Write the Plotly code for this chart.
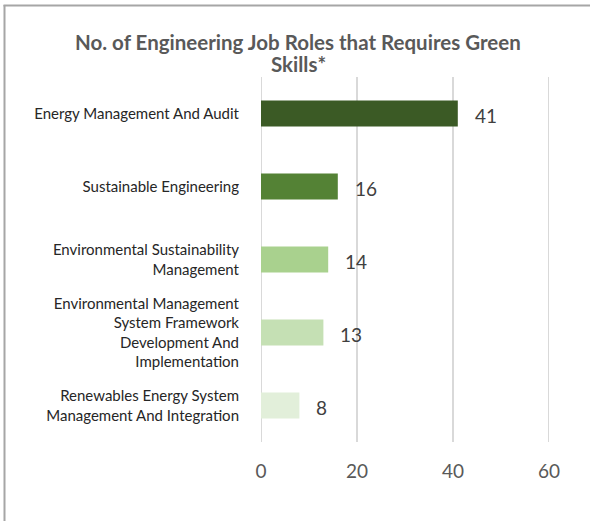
import plotly.graph_objects as go

categories = [
    "Energy Management And Audit",
    "Sustainable Engineering",
    "Environmental Sustainability<br>Management",
    "Environmental Management<br>System Framework<br>Development And<br>Implementation",
    "Renewables Energy System<br>Management And Integration",
]
values = [41, 16, 14, 13, 8]
colors = ["#3b5a25", "#548235", "#a9d18e", "#c5e0b4", "#e2efda"]
x_ticks = [0, 20, 40, 60]
title_lines = ["No. of Engineering Job Roles that Requires Green", "Skills*"]

W, H = 590, 521
L, R, T, B = 261, 549, 77, 442
positions = list(range(len(categories)))

fig = go.Figure()
fig.add_trace(go.Bar(
    x=values, y=positions, orientation="h",
    marker=dict(color=colors, line=dict(width=0)),
    width=0.355, hoverinfo="skip",
))

for p, v in zip(positions, values):
    fig.add_annotation(x=v, y=p, text=str(v), showarrow=False,
                       xanchor="left", yanchor="middle", xshift=15, yshift=-2,
                       font=dict(family="Lato", size=19, color="#404040"))

pw = R - L
ph = B - T
def px_x(px):
    return (px - L) / pw
def px_y(py):
    return (B - py) / ph

for t in x_ticks:
    fig.add_shape(type="line", xref="x", yref="paper", x0=t, x1=t, y0=0, y1=1,
                  layer="below", line=dict(color="#d9d9d9", width=2))

for line, cy in zip(title_lines, [42, 64]):
    fig.add_annotation(x=px_x(298), y=px_y(cy), xref="paper", yref="paper",
                       text="<b>" + line + "</b>", showarrow=False,
                       xanchor="center", yanchor="middle",
                       font=dict(family="Lato", size=20.5, color="#595959"))

fig.add_shape(type="line", xref="paper", yref="paper",
              x0=px_x(4.5), x1=px_x(4.5), y0=px_y(5), y1=px_y(530),
              line=dict(color="#a6a6a6", width=2))
fig.add_shape(type="line", xref="paper", yref="paper",
              x0=px_x(3.5), x1=px_x(600), y0=px_y(5.5), y1=px_y(5.5),
              line=dict(color="#a6a6a6", width=2))

fig.update_layout(
    width=W, height=H,
    margin=dict(l=L, r=W - R, t=T, b=H - B, pad=0),
    paper_bgcolor="white", plot_bgcolor="white",
    showlegend=False,
    xaxis=dict(range=[0, 60], tickvals=x_ticks, ticktext=[str(t) for t in x_ticks],
               showgrid=False, zeroline=False,
               showline=False, ticks="", ticklabelstandoff=16,
               tickfont=dict(family="Lato", size=19, color="#595959")),
    yaxis=dict(range=[4.5, -0.5], tickvals=positions, ticktext=categories,
               showgrid=False, zeroline=False, showline=False, ticks="",
               ticklabelstandoff=21,
               tickfont=dict(family="Lato", size=15, color="#262626")),
)

fig.write_html("out.html", config={"displayModeBar": False},
               post_script="document.body.style.margin='0';")
